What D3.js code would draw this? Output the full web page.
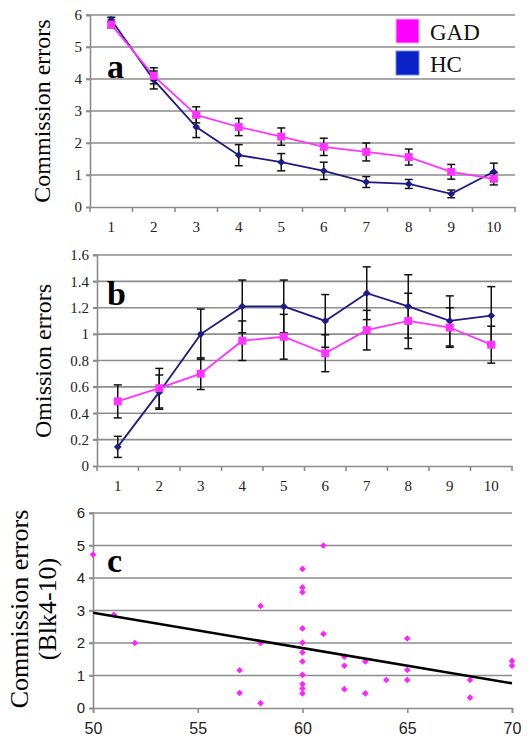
<!DOCTYPE html>
<html><head><meta charset="utf-8">
<script src="https://cdn.jsdelivr.net/npm/d3@7"></script>
<style>body{margin:0;background:#fff}svg{display:block}</style>
</head><body>
<div id="chart"></div>
<script>
const blocks = [1,2,3,4,5,6,7,8,9,10];
// Panel a: commission errors
const gadCommission = [5.7,4.1,2.88,2.5,2.2,1.88,1.72,1.56,1.1,0.88];
const gadCommissionErr = [0.1,0.25,0.25,0.27,0.27,0.27,0.28,0.25,0.23,0.19];
const hcCommission = [5.85,3.97,2.5,1.62,1.4,1.13,0.78,0.72,0.41,1.1];
const hcCommissionErr = [0.08,0.28,0.33,0.33,0.27,0.27,0.17,0.14,0.12,0.27];
const commissionTicks = [0,1,2,3,4,5,6];
// Panel b: omission errors
const gadOmission = [0.49,0.59,0.70,0.95,0.98,0.855,1.03,1.10,1.05,0.92];
const gadOmissionErr = [0.125,0.15,0.12,0.15,0.17,0.14,0.15,0.21,0.15,0.14];
const hcOmission = [0.145,0.56,1.0,1.21,1.21,1.10,1.31,1.21,1.10,1.14];
const hcOmissionErr = [0.08,0.13,0.19,0.2,0.2,0.2,0.2,0.24,0.19,0.22];
const omissionTicks = [0,0.2,0.4,0.6,0.8,1,1.2,1.4,1.6];
// Panel c: scatter
const scatterX = [50,51,52,57,57,58,58,58,60,60,60,60,60,60,60,60,60,60,60,61,61,62,62,62,63,63,64,65,65,65,68,68,70,70];
const scatterY = [4.72,2.87,2.0,1.16,0.46,3.14,2.0,0.15,4.28,3.71,3.56,2.45,2.01,1.71,1.43,1.02,0.74,0.6,0.45,5.0,2.28,1.58,1.3,0.58,1.43,0.45,0.86,2.14,1.17,0.86,0.86,0.32,1.45,1.3];
const trendX = [50,70];
const trendY = [2.93,0.76];
const scatterXTicks = [50,55,60,65,70];
const scatterYTicks = [0,1,2,3,4,5,6];
const legendLabels = ["GAD","HC"];

const W = 530, H = 741;
const serif = "'Liberation Serif','Times New Roman',serif";
const sans = "'Liberation Sans',Arial,sans-serif";
const gridColor = "#8c8c8c";
const gadColor = "#ff33ff", hcColor = "#1c1c84";

const svg = d3.select("#chart").append("svg").attr("width", W).attr("height", H);

function linePanel(opt) {
  const g = svg.append("g");
  const x = d3.scaleBand().domain(blocks).range([opt.left, opt.right]);
  const y = d3.scaleLinear().domain([0, opt.ymax]).range([opt.bottom, opt.top]);
  g.selectAll(".grid").data(opt.yticks.filter(v => v > 0)).join("line")
    .attr("x1", opt.left - 4).attr("x2", opt.right)
    .attr("y1", d => y(d)).attr("y2", d => y(d))
    .attr("stroke", gridColor).attr("stroke-width", 1.6);
  const ya = g.append("g").attr("transform", `translate(${opt.left},0)`)
    .call(d3.axisLeft(y).tickValues(opt.yticks).tickSize(4).tickFormat(d3.format(opt.fmt)));
  ya.select(".domain").attr("stroke", gridColor).attr("stroke-width", 1.6);
  ya.selectAll(".tick line").attr("stroke", gridColor).attr("stroke-width", 1.6);
  ya.selectAll("text").style("font-family", serif).attr("font-size", 15).attr("fill", "#222").attr("x", -8);
  const xa = g.append("g").attr("transform", `translate(0,${opt.bottom})`)
    .call(d3.axisBottom(x).tickSize(0).tickPadding(14));
  xa.select(".domain").attr("stroke", gridColor).attr("stroke-width", 1.6);
  xa.selectAll("text").style("font-family", serif).attr("font-size", 15).attr("fill", "#222");
  const bounds = blocks.map(b => x(b)).concat([x(blocks[blocks.length-1]) + x.bandwidth()]);
  g.selectAll(".bt").data(bounds).join("line")
    .attr("x1", d => d).attr("x2", d => d)
    .attr("y1", opt.bottom).attr("y2", opt.bottom + 5)
    .attr("stroke", gridColor).attr("stroke-width", 1.6);
  const cx = b => x(b) + x.bandwidth() / 2;
  const series = [
    {v: opt.hc, e: opt.hcErr, c: hcColor, shape: "diamond"},
    {v: opt.gad, e: opt.gadErr, c: gadColor, shape: "square"}
  ];
  series.forEach(s => {
    g.append("path").datum(blocks)
      .attr("d", d3.line().x(b => cx(b)).y((b, i) => y(s.v[i])))
      .attr("fill", "none").attr("stroke", s.c).attr("stroke-width", 1.8);
  });
  series.forEach(s => {
    const eb = g.append("g");
    blocks.forEach((b, i) => {
      const lo = y(s.v[i] - s.e[i]), hi = y(s.v[i] + s.e[i]);
      eb.append("line").attr("x1", cx(b)).attr("x2", cx(b)).attr("y1", lo).attr("y2", hi)
        .attr("stroke", "#111").attr("stroke-width", 1.5);
      [lo, hi].forEach(yy => eb.append("line").attr("x1", cx(b) - 4).attr("x2", cx(b) + 4)
        .attr("y1", yy).attr("y2", yy).attr("stroke", "#111").attr("stroke-width", 1.5));
    });
  });
  series.forEach(s => {
    const isSq = s.shape === "square";
    g.selectAll(null).data(blocks).join("path")
      .attr("transform", (b, i) => `translate(${cx(b)},${y(s.v[i])}) rotate(${isSq ? 0 : 45})`)
      .attr("d", d3.symbol().type(d3.symbolSquare).size(isSq ? 64 : 30))
      .attr("fill", s.c);
  });
  g.append("text").attr("x", opt.letterX).attr("y", opt.letterY).text(opt.letter)
    .style("font-family", serif).attr("font-weight", "bold").attr("font-size", 34).attr("fill", "#000");
  g.append("text").attr("transform", `translate(${opt.titleX},${opt.titleY}) rotate(-90)`)
    .attr("text-anchor", "middle").text(opt.title)
    .style("font-family", serif).attr("font-size", 24).attr("fill", "#000");
}

linePanel({left: 90, right: 515, top: 15, bottom: 207, ymax: 6, yticks: commissionTicks, fmt: "d",
  gad: gadCommission, gadErr: gadCommissionErr, hc: hcCommission, hcErr: hcCommissionErr,
  letter: "a", letterX: 107, letterY: 78, title: "Commission errors", titleX: 50, titleY: 111});
linePanel({left: 97, right: 512, top: 255, bottom: 466, ymax: 1.6, yticks: omissionTicks, fmt: "",
  gad: gadOmission, gadErr: gadOmissionErr, hc: hcOmission, hcErr: hcOmissionErr,
  letter: "b", letterX: 107, letterY: 305, title: "Omission errors", titleX: 51, titleY: 361});

// legend
const legColors = ["#ff00ff", "#0a22c8"];
legendLabels.forEach((l, i) => {
  svg.append("rect").attr("x", 396).attr("y", 19 + i * 32).attr("width", 23).attr("height", 24)
    .attr("fill", legColors[i]).attr("stroke", i === 0 ? "#ffb3ff" : "#6f86e8").attr("stroke-width", 1);
  svg.append("text").attr("x", 430).attr("y", 40 + i * 32).text(l)
    .style("font-family", serif).attr("font-size", 23).attr("fill", "#111");
});

// Panel c
(function(){
  const left = 93, right = 512, top = 513, bottom = 708;
  const x = d3.scaleLinear().domain([50, 70]).range([left, right]);
  const y = d3.scaleLinear().domain([0, 6]).range([bottom, top]);
  const g = svg.append("g");
  g.selectAll(".grid").data(scatterYTicks.filter(v => v > 0)).join("line")
    .attr("x1", left - 4).attr("x2", right).attr("y1", d => y(d)).attr("y2", d => y(d))
    .attr("stroke", gridColor).attr("stroke-width", 1.6);
  const ya = g.append("g").attr("transform", `translate(${left},0)`)
    .call(d3.axisLeft(y).tickValues(scatterYTicks).tickSize(4).tickFormat(d3.format("d")));
  ya.select(".domain").attr("stroke", gridColor).attr("stroke-width", 1.6);
  ya.selectAll(".tick line").attr("stroke", gridColor).attr("stroke-width", 1.6);
  ya.selectAll("text").style("font-family", sans).attr("font-size", 15).attr("fill", "#222").attr("x", -8);
  const xa = g.append("g").attr("transform", `translate(0,${bottom})`)
    .call(d3.axisBottom(x).tickValues(scatterXTicks).tickSize(5).tickPadding(10).tickFormat(d3.format("d")));
  xa.select(".domain").attr("stroke", gridColor).attr("stroke-width", 1.6);
  xa.selectAll(".tick line").attr("stroke", gridColor).attr("stroke-width", 1.6);
  xa.selectAll("text").style("font-family", sans).attr("font-size", 16).attr("fill", "#222");
  g.selectAll(null).data(scatterX).join("path")
    .attr("transform", (d, i) => `translate(${x(d)},${y(scatterY[i])}) rotate(45)`)
    .attr("d", d3.symbol().type(d3.symbolSquare).size(22))
    .attr("fill", "#ff22ff");
  g.append("line").attr("x1", x(trendX[0])).attr("x2", x(trendX[1]))
    .attr("y1", y(trendY[0])).attr("y2", y(trendY[1]))
    .attr("stroke", "#000").attr("stroke-width", 2.5);
  g.append("text").attr("x", 107).attr("y", 572).text("c")
    .style("font-family", serif).attr("font-weight", "bold").attr("font-size", 34).attr("fill", "#000");
  const t = g.append("text").attr("transform", `translate(0,609) rotate(-90)`)
    .attr("text-anchor", "middle").style("font-family", serif).attr("font-size", 26).attr("fill", "#000");
  t.append("tspan").attr("x", 0).attr("y", 28).text("Commission errors");
  t.append("tspan").attr("x", 0).attr("y", 56).text("(Blk4-10)");
})();
</script>
</body></html>
